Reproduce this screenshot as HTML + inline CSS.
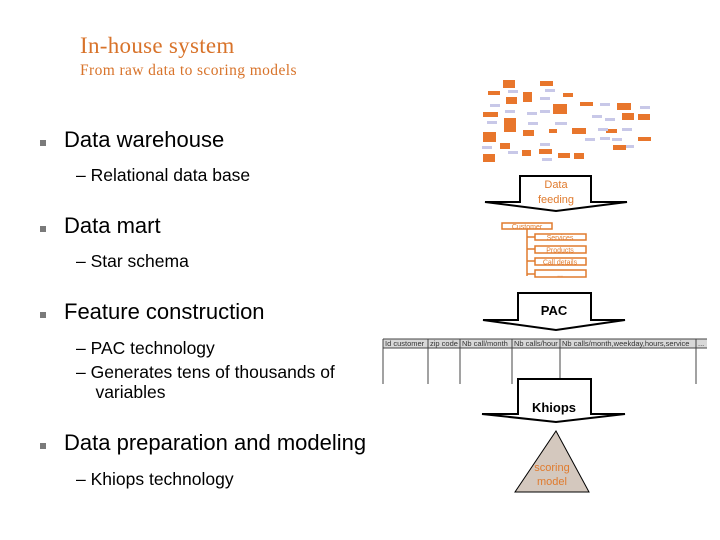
<!DOCTYPE html>
<html><head><style>
body{margin:0;width:720px;height:540px;background:#fff;position:relative;overflow:hidden;font-family:"Liberation Sans",sans-serif}
.t{position:absolute;white-space:nowrap;color:#000}
.b{position:absolute;width:6px;height:6px;background:#7a7a7a}
</style></head><body>
<div class="t" style="left:80px;top:33px;font-family:'Liberation Serif',serif;font-size:23px;color:#d8732a;letter-spacing:0.3px">In-house system</div>
<div class="t" style="left:80px;top:62px;font-family:'Liberation Serif',serif;font-size:15.5px;color:#d8732a;letter-spacing:0.4px">From raw data to scoring models</div>
<div class="b" style="left:40px;top:140px"></div>
<div class="t" style="left:64px;top:127px;font-size:22px">Data warehouse</div>
<div class="t" style="left:76px;top:165px;font-size:17.5px">– Relational data base</div>
<div class="b" style="left:40px;top:226px"></div>
<div class="t" style="left:64px;top:213px;font-size:22px">Data mart</div>
<div class="t" style="left:76px;top:251px;font-size:17.5px">– Star schema</div>
<div class="b" style="left:40px;top:312px"></div>
<div class="t" style="left:64px;top:299px;font-size:22px">Feature construction</div>
<div class="t" style="left:76px;top:338px;font-size:17.5px">– PAC technology</div>
<div class="t" style="left:76px;top:362px;font-size:17.5px;line-height:20px">– Generates tens of thousands of<br>&nbsp;&nbsp;&nbsp;&nbsp;variables</div>
<div class="b" style="left:40px;top:443px"></div>
<div class="t" style="left:64px;top:430px;font-size:22px">Data preparation and modeling</div>
<div class="t" style="left:76px;top:469px;font-size:17.5px">– Khiops technology</div>

<svg width="720" height="540" style="position:absolute;left:0;top:0" font-family="Liberation Sans, sans-serif">
<g fill="#e8762c">
<rect x="503" y="80" width="12" height="8"/><rect x="540" y="81" width="13" height="5"/><rect x="488" y="91" width="12" height="4"/>
<rect x="506" y="97" width="11" height="7"/><rect x="523" y="92" width="9" height="10"/><rect x="563" y="93" width="10" height="4"/>
<rect x="483" y="112" width="15" height="5"/><rect x="504" y="118" width="12" height="14"/><rect x="553" y="104" width="14" height="10"/>
<rect x="580" y="102" width="13" height="4"/><rect x="617" y="103" width="14" height="7"/><rect x="622" y="113" width="12" height="7"/>
<rect x="638" y="114" width="12" height="6"/><rect x="483" y="132" width="13" height="10"/><rect x="523" y="130" width="11" height="6"/>
<rect x="549" y="129" width="8" height="4"/><rect x="572" y="128" width="14" height="6"/><rect x="606" y="129" width="11" height="4"/>
<rect x="638" y="137" width="13" height="4"/><rect x="500" y="143" width="10" height="6"/><rect x="522" y="150" width="9" height="6"/>
<rect x="539" y="149" width="13" height="5"/><rect x="558" y="153" width="12" height="5"/><rect x="574" y="153" width="10" height="6"/>
<rect x="613" y="145" width="13" height="5"/><rect x="483" y="154" width="12" height="8"/>
</g>
<g fill="#c8c8e8">
<rect x="508" y="90" width="10" height="3"/><rect x="545" y="89" width="10" height="3"/><rect x="490" y="104" width="10" height="3"/>
<rect x="540" y="97" width="10" height="3"/><rect x="600" y="103" width="10" height="3"/><rect x="640" y="106" width="10" height="3"/>
<rect x="505" y="110" width="10" height="3"/><rect x="527" y="112" width="10" height="3"/><rect x="540" y="110" width="10" height="3"/>
<rect x="592" y="115" width="10" height="3"/><rect x="605" y="118" width="10" height="3"/><rect x="555" y="122" width="12" height="3"/>
<rect x="487" y="121" width="10" height="3"/><rect x="528" y="122" width="10" height="3"/><rect x="598" y="128" width="10" height="3"/>
<rect x="622" y="128" width="10" height="3"/><rect x="482" y="146" width="10" height="3"/><rect x="540" y="143" width="10" height="3"/>
<rect x="585" y="138" width="10" height="3"/><rect x="600" y="137" width="10" height="3"/><rect x="612" y="138" width="10" height="3"/>
<rect x="508" y="151" width="10" height="3"/><rect x="542" y="158" width="10" height="3"/><rect x="626" y="145" width="8" height="3"/>
</g>
<path d="M520,176 H591 V202 H627 L556,211 L485,202 H520 Z" fill="#fff" stroke="#000" stroke-width="2"/>
<text x="556" y="188" font-size="11" fill="#e07b2e" text-anchor="middle">Data</text>
<text x="556" y="203" font-size="11" fill="#e07b2e" text-anchor="middle">feeding</text>
<g stroke="#e07b2e" stroke-width="1.5" fill="#fff">
<path d="M527,229 V276 M527,237 H535 M527,249 H535 M527,261 H535 M527,274 H535" fill="none"/>
<rect x="502" y="223" width="50" height="6"/>
<rect x="535" y="234" width="51" height="6"/><rect x="535" y="246" width="51" height="7"/>
<rect x="535" y="258" width="51" height="7"/><rect x="535" y="270" width="51" height="7"/>
</g>
<g font-size="7" fill="#e07b2e" text-anchor="middle">
<text x="527" y="229">Customer</text><text x="560" y="240">Services</text><text x="560" y="252.5">Products</text>
<text x="560" y="264.5">Call details</text><text x="560" y="276.5">...</text></g>
<path d="M518,293 H591 V320 H625 L556,330 L483,320 H518 Z" fill="#fff" stroke="#000" stroke-width="2"/>
<text x="554" y="315" font-size="13" font-weight="bold" text-anchor="middle">PAC</text>
<rect x="383" y="339" width="324" height="9" fill="#d8d8d8"/>
<g stroke="#444" stroke-width="1" fill="none">
<path d="M383,339 H707 M383,348 H707 M383,339 V384 M428,339 V384 M460,339 V384 M512,339 V384 M560,339 V384 M696,339 V384"/>
</g>
<g font-size="7.5" fill="#333"><text x="385" y="346">Id customer</text><text x="430" y="346">zip code</text>
<text x="462" y="346">Nb call/month</text><text x="514" y="346">Nb calls/hour</text>
<text x="562" y="346">Nb calls/month,weekday,hours,service</text><text x="698" y="346">...</text></g>
<path d="M518,379 H591 V414 H625 L556,422 L482,414 H518 Z" fill="#fff" stroke="#000" stroke-width="2"/>
<text x="554" y="412" font-size="13" font-weight="bold" text-anchor="middle">Khiops</text>
<path d="M556,431 L589,492 H515 Z" fill="#d4c8be" stroke="#000" stroke-width="1"/>
<text x="552" y="471" font-size="11" fill="#e07b2e" text-anchor="middle">scoring</text>
<text x="552" y="485" font-size="11" fill="#e07b2e" text-anchor="middle">model</text>
</svg>
</body></html>
